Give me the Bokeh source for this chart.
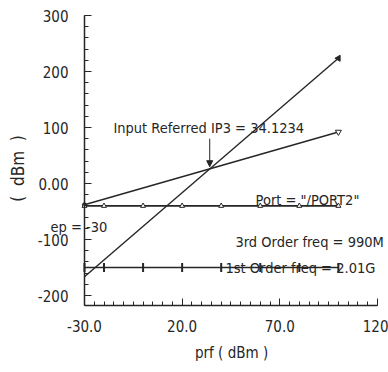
from bokeh.plotting import figure
from bokeh.models import FixedTicker, Label, Arrow, NormalHead
from bokeh.embed import file_html
from bokeh.resources import INLINE
import math

# ---- data ----
x_ticks = [-30, 20, 70, 120]
x_tick_labels = {-30: "-30.0", 20: "20.0", 70: "70.0", 120: "120"}
y_ticks = [-200, -100, 0, 100, 200, 300]
y_tick_labels = {-200: "-200", -100: "-100", 0: "0.00", 100: "100", 200: "200", 300: "300"}

x_axis_span = (-30, 120)
y_axis_span = (-217.9, 300)

ext_x = [-30, 100]                    # extrapolation lines
first_order_ext = [-38, 92]           # slope 1
third_order_ext = [-166.4, 223.6]     # slope 3
ip3_x = 34.1234
ip3_y = 26

sweep_x = [-30, -20, 0, 20, 40, 60, 80, 100]
port_curve = [-40, -40, -40, -40, -40, -40, -40, -40]
fund_curve = [-150, -150, -150, -150, -150, -150, -150, -150]

FONT = "DejaVu Sans Condensed, Liberation Sans"
INK = "#262626"

p = figure(width=388, height=372, output_backend="svg", toolbar_location=None,
           x_range=(-73.0, 125.66), y_range=(-337.5, 326.8),
           min_border_left=0, min_border_right=0, min_border_top=0, min_border_bottom=0)
p.grid.visible = False
p.outline_line_color = None
p.background_fill_color = "white"
p.border_fill_color = "white"

for ax in (p.xaxis[0], p.yaxis[0]):
    ax.axis_line_color = INK
    ax.axis_line_width = 1.5
    ax.major_tick_line_color = INK
    ax.minor_tick_line_color = INK
    ax.major_tick_in = 7
    ax.major_tick_out = 0
    ax.minor_tick_in = 4
    ax.minor_tick_out = 0
    ax.major_label_text_font = FONT
    ax.major_label_text_font_size = "15px"
    ax.major_label_text_color = INK

p.xaxis.ticker = FixedTicker(ticks=x_ticks, minor_ticks=list(range(-30, 121, 5)))
p.xaxis.major_label_overrides = x_tick_labels
p.xaxis.major_label_standoff = 14
p.xaxis.bounds = x_axis_span
p.xaxis.fixed_location = y_axis_span[0]

p.yaxis.ticker = FixedTicker(ticks=y_ticks, minor_ticks=list(range(-200, 301, 20)))
p.yaxis.major_label_overrides = y_tick_labels
p.yaxis.major_label_standoff = 16
p.yaxis.bounds = y_axis_span
p.yaxis.fixed_location = x_axis_span[0]

# extrapolated lines
p.line(ext_x, third_order_ext, line_color=INK, line_width=1.4)
p.line(ext_x, first_order_ext, line_color=INK, line_width=1.4)
p.scatter([ext_x[1]], [third_order_ext[1]], marker="triangle", size=6,
          angle=-math.radians(30), fill_color=INK, line_color=INK)
p.scatter([ext_x[1]], [first_order_ext[1]], marker="inverted_triangle", size=6,
          fill_color="white", line_color=INK)
p.scatter([ext_x[0]], [first_order_ext[0]], marker="circle", size=4,
          fill_color=INK, line_color=INK)

# simulated curves
p.line(sweep_x, port_curve, line_color=INK, line_width=1.6)
p.scatter(sweep_x, port_curve, marker="triangle", size=5, fill_color="white", line_color=INK)
p.line(sweep_x, fund_curve, line_color=INK, line_width=1.6)
p.scatter(sweep_x, fund_curve, marker="dash", angle=math.pi / 2, size=9, line_color=INK, line_width=2)

# annotations
def lab(x, y, t, size="14.5px", align="left", angle=0.0):
    p.add_layout(Label(x=x, y=y, text=t, text_font=FONT, text_font_size=size,
                       text_color=INK, text_align=align, text_baseline="middle", angle=angle))

lab(-15.2, 100, "Input Referred IP3 = 34.1234")
p.add_layout(Arrow(end=NormalHead(size=6, line_color=INK, fill_color=INK),
                   x_start=ip3_x, y_start=80, x_end=ip3_x, y_end=ip3_y + 4,
                   line_color=INK, line_width=1))
lab(57.6, -29, "Port = \"/PORT2\"")
lab(47.3, -105, "3rd Order freq = 990M")
lab(42.2, -150, "1st Order freq = 2.01G")
lab(-47.4, -78, "ep = -30")

# axis titles
lab(45.3, -301.8, "prf ( dBm )", size="15px", align="center")
lab(-63.8, 26.8, "(\u00a0\u00a0dBm\u00a0\u00a0)", size="17px", align="center", angle=math.pi / 2)

open("out.html", "w").write(file_html(p, INLINE))
